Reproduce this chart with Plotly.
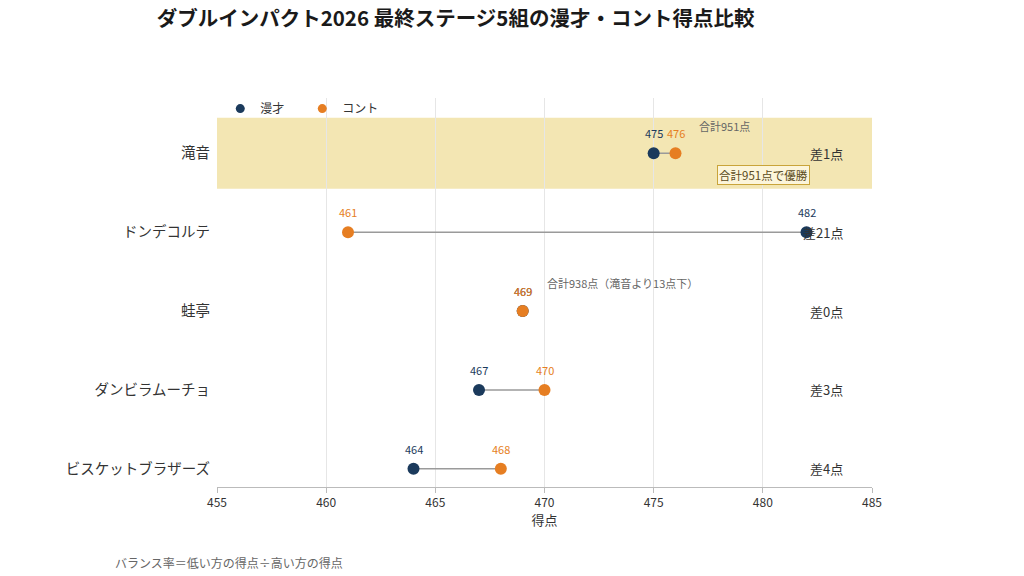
import plotly.graph_objects as go

names = ["滝音", "ドンデコルテ", "蛙亭", "ダンビラムーチョ", "ビスケットブラザーズ"]
manzai = [475, 482, 469, 467, 464]
conte = [476, 461, 469, 470, 468]
x_ticks = [455, 460, 465, 470, 475, 480, 485]

NAVY = "#1B3A5C"
ORANGE = "#E67E22"
FONT = "Noto Sans CJK JP"

n = len(names)
ypos = [n - 1 - i for i in range(n)]  # top to bottom

fig = go.Figure()

# highlight band for winner
fig.add_shape(type="rect", xref="paper", x0=0, x1=1, yref="y",
              y0=ypos[0] - 0.45, y1=ypos[0] + 0.45,
              fillcolor="#F3E6B3", line_width=0, layer="below")

# connector lines
for i in range(n):
    fig.add_trace(go.Scatter(x=[manzai[i], conte[i]], y=[ypos[i], ypos[i]],
                             mode="lines", line=dict(color="#9A9A9A", width=1.5),
                             showlegend=False, hoverinfo="skip"))

fig.add_trace(go.Scatter(x=manzai, y=ypos, mode="markers", name="漫才",
                         marker=dict(color=NAVY, size=12), showlegend=False))
fig.add_trace(go.Scatter(x=conte, y=ypos, mode="markers", name="コント",
                         marker=dict(color=ORANGE, size=12), showlegend=False))

# legend-only entries with smaller symbols
fig.add_trace(go.Scatter(x=[None], y=[None], mode="markers", name="漫才",
                         marker=dict(color=NAVY, size=9)))
fig.add_trace(go.Scatter(x=[None], y=[None], mode="markers", name="コント",
                         marker=dict(color=ORANGE, size=9)))

# value labels
for vals, col in ((manzai, NAVY), (conte, ORANGE)):
    for i in range(n):
        fig.add_annotation(x=vals[i], y=ypos[i], yshift=20, text=str(vals[i]),
                           showarrow=False, font=dict(size=11, color=col, family=FONT))

# diff labels
for i in range(n):
    fig.add_annotation(x=483.75, y=ypos[i], xanchor="right", yanchor="middle",
                       text=f"差{abs(manzai[i] - conte[i])}点", showarrow=False,
                       font=dict(size=13, color="#333333", family=FONT))

tot0 = manzai[0] + conte[0]
tot2 = manzai[2] + conte[2]
fig.add_annotation(x=max(manzai[0], conte[0]) + 1, y=ypos[0] + 0.35, xanchor="left",
                   text=f"合計{tot0}点", showarrow=False,
                   font=dict(size=11, color="#666666", family=FONT))
fig.add_annotation(x=max(manzai[2], conte[2]) + 1, y=ypos[2] + 0.35, xanchor="left",
                   text=f"合計{tot2}点（{names[0]}より{tot0 - tot2}点下）", showarrow=False,
                   font=dict(size=11, color="#666666", family=FONT))
fig.add_annotation(x=480.05, y=ypos[0] - 0.27, xanchor="center",
                   text=f"合計{tot0}点で優勝", showarrow=False,
                   bgcolor="#FCF5DA", bordercolor="#C9A43A", borderwidth=1, borderpad=1,
                   font=dict(size=11.5, color="#5A4A20", family=FONT))

fig.add_annotation(xref="paper", yref="paper", x=-0.159, y=-0.193,
                   xanchor="left", yanchor="middle",
                   text="バランス率＝低い方の得点÷高い方の得点", showarrow=False,
                   font=dict(size=12, color="#666666", family=FONT))

fig.update_layout(
    width=1024, height=576,
    margin=dict(l=217, r=152, t=98, b=89),
    paper_bgcolor="white", plot_bgcolor="white",
    font=dict(family=FONT, color="#333333"),
    title=dict(text="<b>ダブルインパクト2026 最終ステージ5組の漫才・コント得点比較</b>",
               x=0.153, xanchor="left", y=0.968, yanchor="middle",
               font=dict(size=20.5, color="#1a1a1a", family=FONT)),
    legend=dict(orientation="h", x=0.005, y=1.01, xanchor="left", yanchor="top",
                bgcolor="rgba(0,0,0,0)", font=dict(size=12, color="#333333"),
                entrywidth=37, entrywidthmode="pixels"),
    showlegend=True,
    xaxis=dict(range=[455, 485], tickvals=x_ticks, showgrid=True, gridcolor="#E6E6E6",
               zeroline=False, showline=True, linecolor="#BBBBBB", ticks="outside",
               tickcolor="#BBBBBB", ticklen=5, tickfont=dict(size=12, color="#333333"),
               title=dict(text="得点", font=dict(size=13, color="#333333"), standoff=6)),
    yaxis=dict(range=[-0.23, n - 1 + 0.7], tickvals=ypos, ticktext=names,
               showgrid=False, zeroline=False, showline=False,
               tickfont=dict(size=14.5, color="#333333"), ticks="", ticklabelstandoff=6),
)

fig.write_html("out.html")
